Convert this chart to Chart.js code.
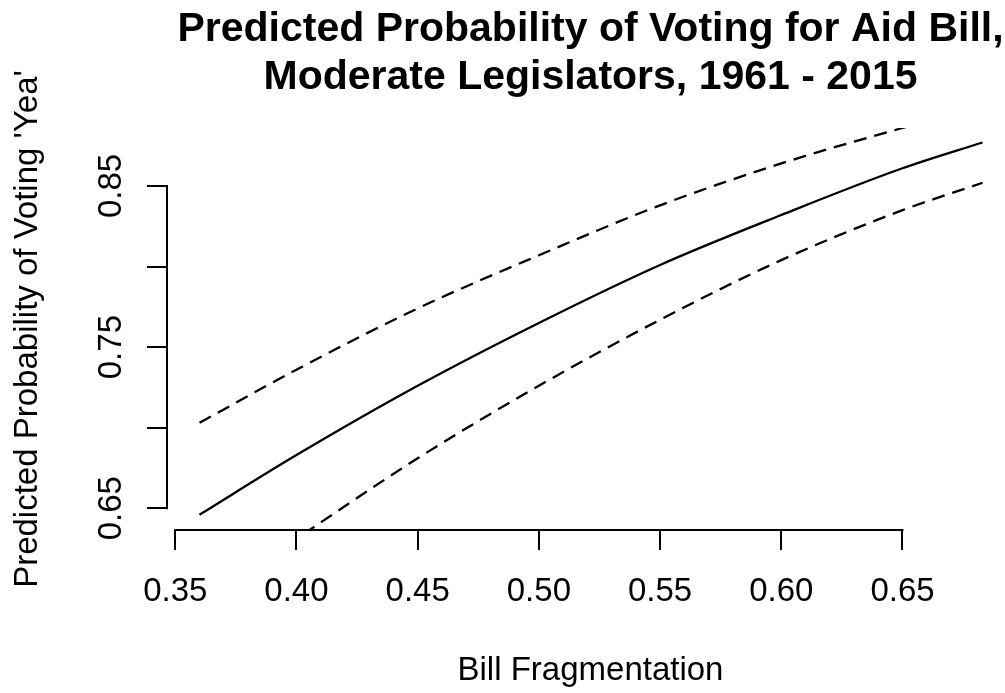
<!DOCTYPE html>
<html>
<head>
<meta charset="utf-8">
<title>Predicted Probability of Voting for Aid Bill</title>
<script src="https://cdn.jsdelivr.net/npm/chart.js@4.4.1/dist/chart.umd.min.js"></script>
<style>
  html, body { margin: 0; padding: 0; background: #fff; overflow: hidden; }
  #wrap { width: 1005px; height: 693px; overflow: hidden; }
  canvas { display: block; }
</style>
</head>
<body>
<div id="wrap"><canvas id="probChart" width="1020" height="693"></canvas></div>
<script>
// Bill fragmentation (x) and predicted probabilities
const fragmentation = [0.36, 0.40, 0.45, 0.50, 0.55, 0.60, 0.65, 0.683];
const predicted     = [0.646, 0.683, 0.726, 0.765, 0.801, 0.832, 0.861, 0.877];
const upperBound    = [0.703, 0.736, 0.774, 0.807, 0.838, 0.864, 0.886, 0.899];
const lowerBound    = [0.590, 0.631, 0.681, 0.726, 0.767, 0.804, 0.835, 0.852];

const xTicks = [0.35, 0.40, 0.45, 0.50, 0.55, 0.60, 0.65];
const yTicks = [0.65, 0.70, 0.75, 0.80, 0.85];
const yLabelled = [0.65, 0.75, 0.85]; // R drops the labels that would overlap

const titleLines = ['Predicted Probability of Voting for Aid Bill,', 'Moderate Legislators, 1961 - 2015'];
const FONT = '"Liberation Sans", Arial, Helvetica, sans-serif';

const toPoints = ys => fragmentation.map((x, i) => ({ x: x, y: ys[i] }));

// axis lines only between first and last tick, plus the title (like base R)
const rAxes = {
  id: 'rAxes',
  afterDraw(chart) {
    const { ctx, chartArea, scales: { x, y } } = chart;
    ctx.save();
    ctx.strokeStyle = '#000';
    ctx.lineWidth = 2;
    ctx.lineCap = 'square';
    ctx.beginPath();
    ctx.moveTo(x.getPixelForValue(xTicks[0]), chartArea.bottom);
    ctx.lineTo(x.getPixelForValue(xTicks[xTicks.length - 1]), chartArea.bottom);
    ctx.moveTo(chartArea.left, y.getPixelForValue(yTicks[0]));
    ctx.lineTo(chartArea.left, y.getPixelForValue(yTicks[yTicks.length - 1]));
    ctx.stroke();

    ctx.fillStyle = '#000';
    ctx.font = 'bold 41px ' + FONT;
    ctx.textAlign = 'center';
    ctx.textBaseline = 'alphabetic';
    const cx = (chartArea.left + chartArea.right) / 2;
    titleLines.forEach((t, i) => ctx.fillText(t, cx, 41 + i * 48));
    ctx.restore();
  }
};

const lineStyle = {
  borderColor: '#000',
  borderWidth: 2.3,
  pointRadius: 0,
  fill: false,
  cubicInterpolationMode: 'monotone'
};

new Chart(document.getElementById('probChart'), {
  type: 'line',
  data: {
    datasets: [
      Object.assign({ label: 'Predicted', data: toPoints(predicted) }, lineStyle),
      Object.assign({ label: 'Upper', data: toPoints(upperBound), borderDash: [13, 8] }, lineStyle),
      Object.assign({ label: 'Lower', data: toPoints(lowerBound), borderDash: [13, 8] }, lineStyle)
    ]
  },
  options: {
    responsive: false,
    animation: false,
    layout: { padding: { top: 128, right: 6, left: 0, bottom: 0 } },
    plugins: {
      legend: { display: false },
      tooltip: { enabled: false }
    },
    scales: {
      x: {
        type: 'linear',
        min: 0.3466,
        max: 0.696,
        afterBuildTicks: s => { s.ticks = xTicks.map(v => ({ value: v })); },
        afterFit: s => { s.height = 163; },
        border: { display: false },
        grid: { drawOnChartArea: false, drawTicks: true, tickLength: 20, color: '#000', lineWidth: 2 },
        ticks: {
          autoSkip: false,
          maxRotation: 0,
          padding: 22,
          color: '#000',
          font: { family: FONT, size: 33 },
          callback: v => v.toFixed(2)
        },
        title: {
          display: true,
          text: 'Bill Fragmentation',
          color: '#000',
          font: { family: FONT, size: 33 },
          padding: { top: 0, bottom: 2 }
        }
      },
      y: {
        type: 'linear',
        min: 0.6365,
        max: 0.886,
        afterBuildTicks: s => { s.ticks = yTicks.map(v => ({ value: v })); },
        afterFit: s => { s.width = 167; },
        border: { display: false },
        grid: { drawOnChartArea: false, drawTicks: true, tickLength: 20, color: '#000', lineWidth: 2 },
        ticks: {
          autoSkip: false,
          minRotation: 90,
          maxRotation: 90,
          crossAlign: 'center',
          padding: 3,
          color: '#000',
          font: { family: FONT, size: 33 },
          callback: v => yLabelled.includes(v) ? v.toFixed(2) : ''
        },
        title: {
          display: true,
          text: "Predicted Probability of Voting 'Yea'",
          color: '#000',
          font: { family: FONT, size: 33 },
          padding: { top: 8, bottom: 0 }
        }
      }
    }
  },
  plugins: [rAxes]
});
</script>
</body>
</html>
